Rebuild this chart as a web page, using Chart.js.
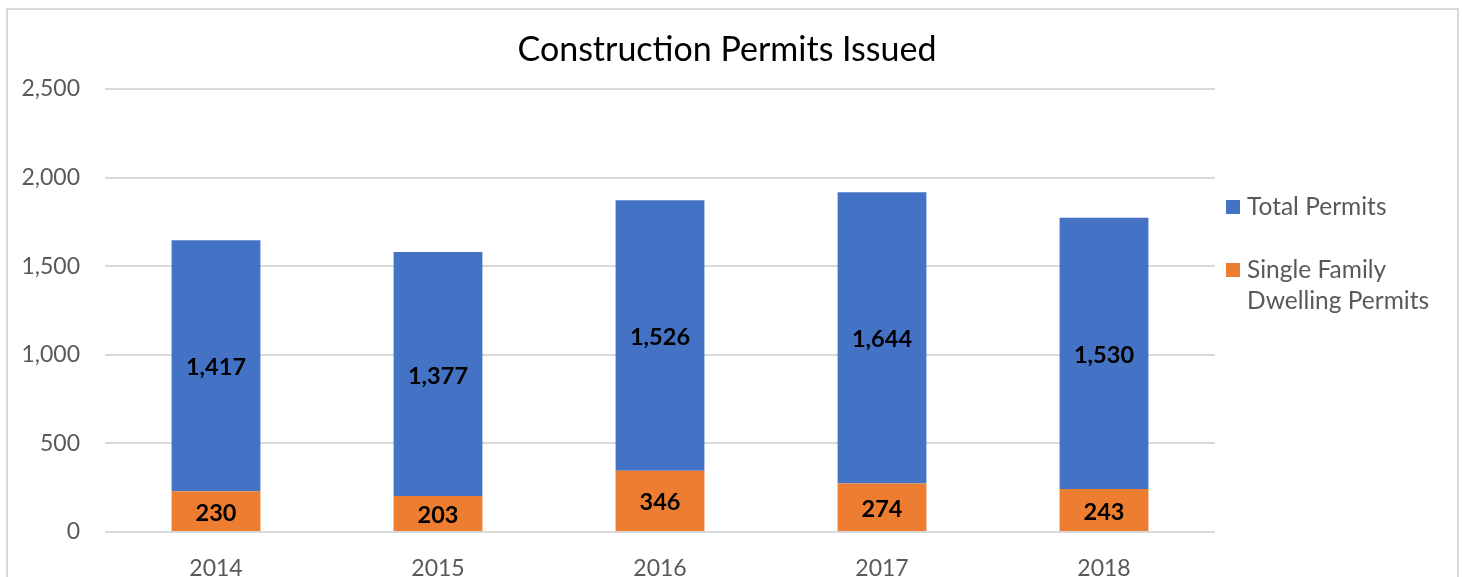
<!DOCTYPE html>
<html><head><meta charset="utf-8">
<script src="https://cdn.jsdelivr.net/npm/chart.js@4/dist/chart.umd.min.js"></script>
<style>html,body{margin:0;padding:0;background:#fff;}#wrap{position:absolute;left:0;top:0;width:1462px;height:577px;}</style>
</head><body><div id="wrap"><canvas id="c" width="1462" height="577"></canvas></div>
<script>
const categories = ['2014','2015','2016','2017','2018'];
const totalPermits = [1417, 1377, 1526, 1644, 1530];
const singleFamily = [230, 203, 346, 274, 243];
const yTicks = [0, 500, 1000, 1500, 2000, 2500];
const titleText = 'Construction Permits Issued';
const legendItems = [
  {lines:['Total Permits'], color:'#4472C4'},
  {lines:['Single Family','Dwelling Permits'], color:'#ED7D31'}
];
const FONT = 'Lato, "Open Sans", sans-serif';

const deco = {
  id:'deco',
  beforeDraw(chart){
    const ctx = chart.ctx;
    ctx.save();
    ctx.fillStyle = '#fff';
    ctx.fillRect(0,0,chart.width,chart.height);
    ctx.strokeStyle = '#d9d9d9';
    ctx.lineWidth = 2;
    ctx.strokeRect(7, 9, 1451, 600);
    ctx.restore();
  },
  afterDraw(chart){
    const ctx = chart.ctx;
    ctx.save();
    // title
    ctx.fillStyle = '#000';
    ctx.font = '34px ' + FONT;
    ctx.textAlign = 'center';
    ctx.textBaseline = 'middle';
    ctx.fillText(titleText, 727, 50);
    // legend
    ctx.font = '24.5px ' + FONT;
    ctx.textAlign = 'left';
    let ys = [[207],[270,301]];
    legendItems.forEach((it,i)=>{
      ctx.fillStyle = it.color;
      ctx.fillRect(1226, ys[i][0]-7, 14, 14);
      ctx.fillStyle = '#595959';
      it.lines.forEach((l,j)=>ctx.fillText(l, 1247, ys[i][j]));
    });
    // data labels
    ctx.font = 'bold 23.5px ' + FONT;
    ctx.fillStyle = '#000';
    ctx.textAlign = 'center';
    chart.data.datasets.forEach((ds,di)=>{
      const meta = chart.getDatasetMeta(di);
      meta.data.forEach((bar,i)=>{
        const p = bar.getProps(['x','y','base'], true);
        const cy = (p.y + p.base)/2 + 2;
        ctx.fillText(ds.data[i].toLocaleString('en-US'), p.x, cy);
      });
    });
    ctx.restore();
  }
};

new Chart(document.getElementById('c'), {
  type:'bar',
  data:{
    labels: categories,
    datasets:[
      {label:'Single Family Dwelling Permits', data: singleFamily, backgroundColor:'#ED7D31', stack:'s'},
      {label:'Total Permits', data: totalPermits, backgroundColor:'#4472C4', stack:'s'}
    ]
  },
  options:{
    responsive:false,
    animation:false,
    layout:{padding:{top:89, right:247, bottom:0, left:0}},
    plugins:{legend:{display:false}, title:{display:false}, tooltip:{enabled:false}},
    datasets:{bar:{categoryPercentage:1, barPercentage:0.4}},
    scales:{
      x:{
        stacked:true,
        grid:{display:false, drawTicks:false},
        border:{display:false},
        ticks:{color:'#595959', font:{family:FONT, size:23}, padding:23, maxRotation:0},
        afterFit(s){ s.height = 45; }
      },
      y:{
        stacked:true,
        min:0, max:2500,
        afterBuildTicks(s){ s.ticks = yTicks.map(v=>({value:v})); },
        grid:{color:'#d9d9d9', lineWidth:2, drawTicks:false},
        border:{display:false},
        ticks:{color:'#595959', font:{family:FONT, size:23}, padding:25,
          callback:v=>v.toLocaleString('en-US')},
        afterFit(s){ s.width = 105; }
      }
    }
  },
  plugins:[deco]
});
</script></body></html>
